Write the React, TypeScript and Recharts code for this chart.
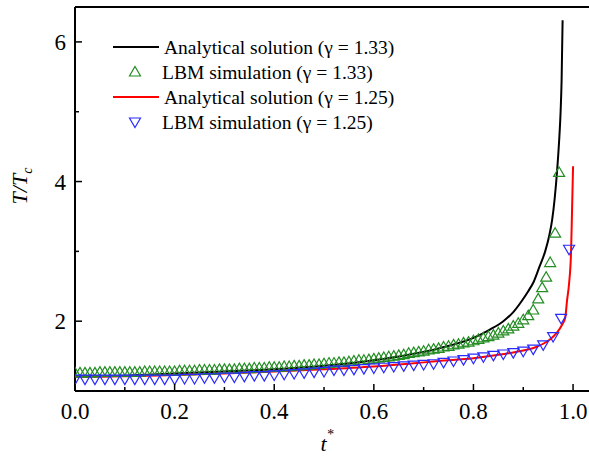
import React from 'react';
import { ComposedChart, Line, Scatter, XAxis, YAxis, ReferenceLine } from 'recharts';

// Analytical solution, gamma = 1.33
const blackT = [0, 0.1, 0.2, 0.3, 0.4, 0.5, 0.6, 0.67, 0.73, 0.8, 0.833, 0.86, 0.88, 0.898, 0.91, 0.92, 0.932, 0.944, 0.952, 0.958, 0.963, 0.968, 0.972, 0.975, 0.977, 0.979];
const blackV = [1.21, 1.22, 1.25, 1.28, 1.31, 1.36, 1.44, 1.52, 1.61, 1.76, 1.88, 2.0, 2.13, 2.3, 2.43, 2.55, 2.77, 3.0, 3.22, 3.45, 3.75, 4.16, 4.58, 5.0, 5.45, 6.31];

// Analytical solution, gamma = 1.25
const redT = [0, 0.1, 0.2, 0.3, 0.4, 0.5, 0.6, 0.67, 0.73, 0.8, 0.833, 0.87, 0.9, 0.926, 0.952, 0.968, 0.978, 0.984, 0.988, 0.992, 0.996, 0.998, 1.0];
const redV = [1.2, 1.21, 1.23, 1.25, 1.28, 1.31, 1.35, 1.39, 1.43, 1.47, 1.5, 1.54, 1.58, 1.63, 1.73, 1.84, 1.95, 2.04, 2.3, 2.54, 3.0, 3.6, 4.22];

// LBM simulation, gamma = 1.33
const greenT = [
  0.0, 0.01, 0.02, 0.03, 0.04, 0.05, 0.06, 0.07, 0.08, 0.09,
  0.1, 0.11, 0.12, 0.13, 0.14, 0.15, 0.16, 0.17, 0.18, 0.19,
  0.2, 0.21, 0.22, 0.23, 0.24, 0.25, 0.26, 0.27, 0.28, 0.29,
  0.3, 0.31, 0.32, 0.33, 0.34, 0.35, 0.36, 0.37, 0.38, 0.39,
  0.4, 0.41, 0.42, 0.43, 0.44, 0.45, 0.46, 0.47, 0.48, 0.49,
  0.5, 0.51, 0.52, 0.53, 0.54, 0.55, 0.56, 0.57, 0.58, 0.59,
  0.6, 0.61, 0.62, 0.63, 0.64, 0.65, 0.66, 0.67, 0.68, 0.69,
  0.7, 0.71, 0.72, 0.73, 0.74, 0.75, 0.76, 0.77, 0.78, 0.79,
  0.8, 0.81, 0.82, 0.83, 0.84, 0.85, 0.86, 0.87, 0.88, 0.89,
  0.9, 0.91, 0.92, 0.93, 0.938, 0.946, 0.954, 0.964, 0.972,
];
const greenV = [
  1.26, 1.26, 1.26, 1.26, 1.26, 1.27, 1.27, 1.27, 1.27, 1.27,
  1.27, 1.27, 1.27, 1.27, 1.28, 1.28, 1.28, 1.28, 1.28, 1.28,
  1.28, 1.29, 1.29, 1.29, 1.29, 1.3, 1.3, 1.3, 1.3, 1.31,
  1.31, 1.31, 1.31, 1.32, 1.32, 1.32, 1.33, 1.33, 1.33, 1.34,
  1.34, 1.34, 1.35, 1.35, 1.36, 1.36, 1.37, 1.37, 1.38, 1.38,
  1.39, 1.4, 1.4, 1.41, 1.41, 1.42, 1.43, 1.44, 1.44, 1.45,
  1.46, 1.47, 1.48, 1.49, 1.5, 1.51, 1.52, 1.54, 1.55, 1.56,
  1.57, 1.59, 1.6, 1.61, 1.63, 1.64, 1.66, 1.67, 1.69, 1.7,
  1.72, 1.74, 1.76, 1.78, 1.8, 1.83, 1.86, 1.89, 1.93, 1.97,
  2.02, 2.08, 2.16, 2.32, 2.48, 2.63, 2.84, 3.26, 4.13,
];

// LBM simulation, gamma = 1.25
const blueT = [
  0.0, 0.02, 0.04, 0.06, 0.08, 0.1, 0.12, 0.14, 0.16, 0.18,
  0.2, 0.22, 0.24, 0.26, 0.28, 0.3, 0.32, 0.34, 0.36, 0.38,
  0.4, 0.42, 0.44, 0.46, 0.48, 0.5, 0.52, 0.54, 0.56, 0.58,
  0.6, 0.62, 0.64, 0.66, 0.68, 0.7, 0.72, 0.74, 0.76, 0.78,
  0.8, 0.82, 0.84, 0.86, 0.88, 0.9, 0.92, 0.94, 0.96, 0.976, 0.992,
];
const blueV = [
  1.17, 1.17, 1.17, 1.17, 1.17, 1.17, 1.17, 1.17, 1.17, 1.17,
  1.17, 1.18, 1.18, 1.19, 1.19, 1.2, 1.2, 1.21, 1.22, 1.22,
  1.23, 1.24, 1.25, 1.26, 1.27, 1.28, 1.3, 1.3, 1.31, 1.32,
  1.33, 1.34, 1.35, 1.36, 1.37, 1.38, 1.39, 1.41, 1.43, 1.45,
  1.47, 1.49, 1.51, 1.53, 1.55, 1.57, 1.6, 1.66, 1.78, 2.04, 3.03,
];

const xTicks = [0, 0.1, 0.2, 0.3, 0.4, 0.5, 0.6, 0.7, 0.8, 0.9, 1.0];
const xMajor = [0, 0.2, 0.4, 0.6, 0.8, 1.0];
const yTicks = [2, 3, 4, 5, 6];
const yMajor = [2, 4, 6];

const legendItems = [
  { label: 'Analytical solution (γ = 1.33)', kind: 'line', color: '#000000' },
  { label: 'LBM simulation (γ = 1.33)', kind: 'up', color: '#238c23' },
  { label: 'Analytical solution (γ = 1.25)', kind: 'line', color: '#ff0000' },
  { label: 'LBM simulation (γ = 1.25)', kind: 'down', color: '#2b2bff' },
];

const zip = (ts: number[], vs: number[]) => ts.map((t, i) => ({ t, T: vs[i] }));
const blackData = zip(blackT, blackV);
const redData = zip(redT, redV);
const greenData = zip(greenT, greenV);
const blueData = zip(blueT, blueV);

const FONT = "'Liberation Serif'";
const fs = (size: number, italic = false): React.CSSProperties => ({
  fontFamily: FONT,
  fontSize: size,
  fontStyle: italic ? 'italic' : 'normal',
});

const upPts = (cx: number, cy: number) => `${cx},${cy - 5.5} ${cx + 5.5},${cy + 4} ${cx - 5.5},${cy + 4}`;
const downPts = (cx: number, cy: number) => `${cx},${cy + 5.5} ${cx + 5.5},${cy - 4} ${cx - 5.5},${cy - 4}`;

const TriUp = (props: any) => {
  const { cx, cy } = props;
  if (cx == null || cy == null) return null;
  return <polygon points={upPts(cx, cy)} fill="none" stroke="#238c23" strokeWidth={1.2} />;
};
const TriDown = (props: any) => {
  const { cx, cy } = props;
  if (cx == null || cy == null) return null;
  return <polygon points={downPts(cx, cy)} fill="none" stroke="#2b2bff" strokeWidth={1.2} />;
};

const XTick = (props: any) => {
  const { x, y, payload } = props;
  const v = payload.value;
  const major = xMajor.some((m) => Math.abs(m - v) < 1e-6);
  return (
    <g>
      <line x1={x} x2={x} y1={y} y2={y - (major ? 7 : 4)} stroke="#000" strokeWidth={1.5} />
      {major && (
        <text x={x} y={y + 28} textAnchor="middle" style={fs(23)} fill="#000">
          {v.toFixed(1)}
        </text>
      )}
    </g>
  );
};

const YTick = (props: any) => {
  const { x, y, payload } = props;
  const v = payload.value;
  const major = yMajor.includes(v);
  return (
    <g>
      <line x1={x} x2={x + (major ? 7 : 4)} y1={y} y2={y} stroke="#000" strokeWidth={1.5} />
      {major && (
        <text x={x - 9} y={y + 8} textAnchor="end" style={fs(23)} fill="#000">
          {String(v)}
        </text>
      )}
    </g>
  );
};

const LegendBlock = () => (
  <g>
    {legendItems.map((it, i) => {
      const cy = 47 + i * 25;
      return (
        <g key={i}>
          {it.kind === 'line' && <line x1={113} x2={159} y1={cy} y2={cy} stroke={it.color} strokeWidth={2} />}
          {it.kind === 'up' && <polygon points={upPts(135, cy)} fill="none" stroke={it.color} strokeWidth={1.2} />}
          {it.kind === 'down' && <polygon points={downPts(135, cy)} fill="none" stroke={it.color} strokeWidth={1.2} />}
          <text x={it.kind === 'line' ? 164 : 162} y={cy + 7} style={fs(19.5)} fill="#000">
            {it.label}
          </text>
        </g>
      );
    })}
    <text transform="rotate(-90, 27, 186)" x={27} y={186} textAnchor="middle" style={fs(22, true)} fill="#000">
      T/T<tspan style={fs(14, true)} dy={5}>c</tspan>
    </text>
    <text x={327} y={451} textAnchor="middle" style={fs(22, true)} fill="#000">
      t<tspan style={fs(14, true)} dy={-12}>*</tspan>
    </text>
  </g>
);

export default function App() {
  return (
    <div style={{ position: 'absolute', left: 0, top: 0, width: 589, height: 456, background: '#fff' }}>
      <ComposedChart width={589} height={456} margin={{ top: 7, right: 0, bottom: 0, left: 0 }}>
        <XAxis
          type="number"
          dataKey="t"
          domain={[0, 1.032]}
          ticks={xTicks}
          allowDataOverflow
          height={65}
          tickSize={0}
          tickMargin={0}
          tickLine={false}
          tick={<XTick />}
          axisLine={{ stroke: '#000', strokeWidth: 2 }}
          interval={0}
        />
        <YAxis
          type="number"
          domain={[1, 6.5]}
          ticks={yTicks}
          allowDataOverflow
          width={75}
          tickSize={0}
          tickMargin={0}
          tickLine={false}
          tick={<YTick />}
          axisLine={{ stroke: '#000', strokeWidth: 2 }}
          interval={0}
        />
        <ReferenceLine y={6.5} stroke="#000" strokeWidth={2} />
        <Line data={blackData} dataKey="T" type="monotone" stroke="#000" strokeWidth={2} dot={false} isAnimationActive={false} />
        <Line data={redData} dataKey="T" type="monotone" stroke="#ff0000" strokeWidth={2} dot={false} isAnimationActive={false} />
        <Scatter data={greenData} dataKey="T" shape={<TriUp />} isAnimationActive={false} />
        <Scatter data={blueData} dataKey="T" shape={<TriDown />} isAnimationActive={false} />
        <LegendBlock />
      </ComposedChart>
    </div>
  );
}
